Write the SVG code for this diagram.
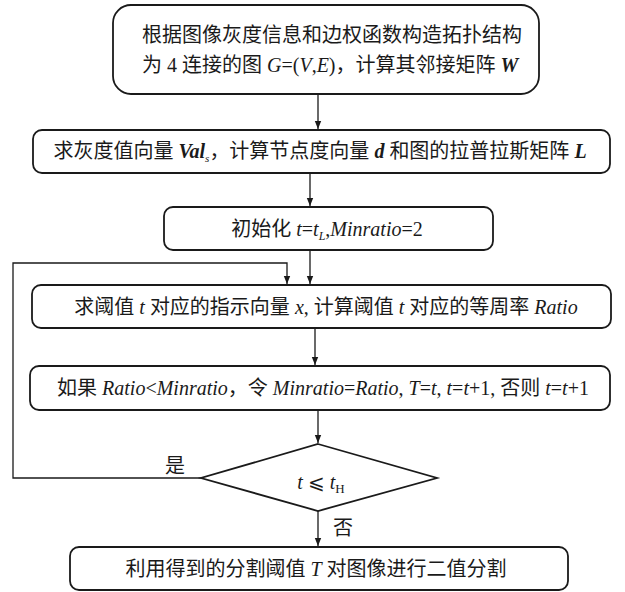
<svg xmlns="http://www.w3.org/2000/svg" width="625" height="592" viewBox="0 0 625 592">
<style>
.box{fill:#fff;stroke:#1a1a1a;stroke-width:1.8}
.ln{fill:none;stroke:#1a1a1a;stroke-width:1.3}
text{font-family:"Liberation Serif","Noto Sans CJK SC",serif;font-size:20px;fill:#1a1a1a}
.i{font-style:italic}
.b{font-weight:bold;font-style:italic}
</style>
<defs>
<marker id="ah" viewBox="0 0 10 10" refX="10" refY="5" markerWidth="8" markerHeight="8" markerUnits="userSpaceOnUse" orient="auto">
<path d="M0,1 L10,5 L0,9 Z" fill="#1a1a1a"/>
</marker>
</defs>
<rect width="625" height="592" fill="#fff"/>
<g id="connectors">
<line class="ln" x1="318" y1="94" x2="318" y2="129" marker-end="url(#ah)"/>
<line class="ln" x1="310" y1="173" x2="310" y2="206" marker-end="url(#ah)"/>
<line class="ln" x1="310" y1="250" x2="310" y2="284" marker-end="url(#ah)"/>
<polyline class="ln" points="201,478 13,478 13,263 287,263 287,284" marker-end="url(#ah)"/>
<line class="ln" x1="315" y1="328" x2="315" y2="365" marker-end="url(#ah)"/>
<line class="ln" x1="318" y1="410" x2="318" y2="443" marker-end="url(#ah)"/>
<line class="ln" x1="318" y1="511" x2="318" y2="546" marker-end="url(#ah)"/>
<text x="175" y="473" text-anchor="middle">是</text>
<text x="343" y="535" text-anchor="middle">否</text>
</g>
<g id="n1">
<rect class="box" x="113" y="5" width="426" height="89" rx="18"/>
<text x="142" y="42">根据图像灰度信息和边权函数构造拓扑结构</text>
<text x="142" y="72">为 4 连接的图 <tspan class="i">G</tspan>=(<tspan class="i">V</tspan>,<tspan class="i">E</tspan>)，计算其邻接矩阵 <tspan class="b">W</tspan></text>
</g>
<g id="n2">
<rect class="box" x="33" y="130" width="577" height="43" rx="9"/>
<text x="320" y="158" text-anchor="middle">求灰度值向量 <tspan class="b">Val</tspan><tspan class="i" font-size="11" dy="4">s</tspan><tspan dy="-4">，计算节点度向量 </tspan><tspan class="b">d</tspan> 和图的拉普拉斯矩阵 <tspan class="b">L</tspan></text>
</g>
<g id="n3">
<rect class="box" x="164" y="207" width="329" height="43" rx="9"/>
<text x="327" y="236" text-anchor="middle">初始化 <tspan class="i">t</tspan>=<tspan class="i">t</tspan><tspan class="i" font-size="12" dy="4">L</tspan><tspan dy="-4">,</tspan><tspan class="i">Minratio</tspan>=2</text>
</g>
<g id="n4">
<rect class="box" x="32" y="285" width="579" height="43" rx="9"/>
<text x="326" y="314" text-anchor="middle">求阈值 <tspan class="i">t</tspan> 对应的指示向量 <tspan class="i">x</tspan>, 计算阈值 <tspan class="i">t</tspan> 对应的等周率 <tspan class="i">Ratio</tspan></text>
</g>
<g id="n5">
<rect class="box" x="30" y="366" width="580" height="44" rx="9"/>
<text x="323" y="395" text-anchor="middle">如果 <tspan class="i">Ratio</tspan>&lt;<tspan class="i">Minratio</tspan>，令 <tspan class="i">Minratio</tspan>=<tspan class="i">Ratio</tspan>, <tspan class="i">T</tspan>=<tspan class="i">t</tspan>, <tspan class="i">t</tspan>=<tspan class="i">t</tspan>+1, 否则 <tspan class="i">t</tspan>=<tspan class="i">t</tspan>+1</text>
</g>
<g id="n6">
<polygon class="box" points="318,444 437,478 318,511 201,478"/>
<text x="321" y="489" text-anchor="middle"><tspan class="i">t</tspan> ⩽ <tspan class="i">t</tspan><tspan font-size="13" dy="4">H</tspan></text>
</g>
<g id="n7">
<rect class="box" x="70" y="547" width="498" height="43" rx="9"/>
<text x="316" y="576" text-anchor="middle">利用得到的分割阈值 <tspan class="i">T</tspan> 对图像进行二值分割</text>
</g>
</svg>
